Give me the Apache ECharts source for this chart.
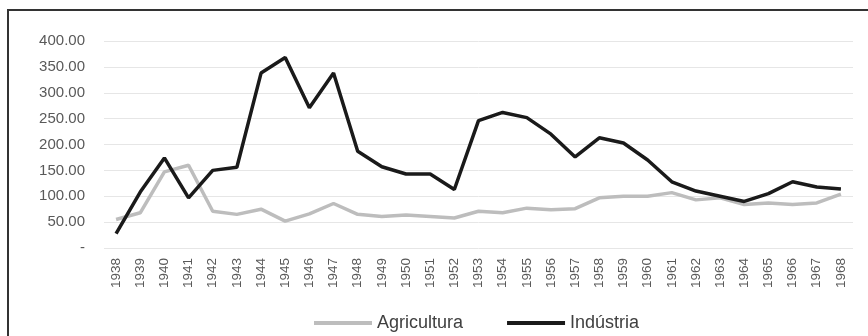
<!DOCTYPE html>
<html>
<head>
<meta charset="utf-8">
<script src="https://cdn.jsdelivr.net/npm/echarts@6/dist/echarts.min.js"></script>
<style>
  body { margin: 0; background: #fff; }
  #frame { position: absolute; left: 7px; top: 9px; width: 900px; height: 400px; border: 2px solid #333; box-sizing: border-box; }
  #main { position: absolute; left: 0; top: 0; width: 868px; height: 336px; }
</style>
</head>
<body>
<div id="frame"></div>
<div id="main"></div>
<script>
// anos
var years = ['1938','1939','1940','1941','1942','1943','1944','1945','1946','1947','1948','1949','1950','1951','1952','1953','1954','1955','1956','1957','1958','1959','1960','1961','1962','1963','1964','1965','1966','1967','1968'];
var agricultura = [55, 68, 147, 160, 71, 65, 75, 52, 66, 86, 65, 61, 64, 61, 58, 71, 68, 77, 74, 76, 97, 100, 100, 107, 93, 97, 84, 87, 84, 87, 104];
var industria = [28, 108, 174, 97, 150, 156, 338, 368, 271, 338, 187, 157, 143, 143, 113, 246, 262, 252, 220, 176, 213, 203, 170, 128, 110, 100, 90, 105, 128, 118, 114];

var myChart = echarts.init(document.getElementById('main'));
myChart.setOption({
    animation: false,
    grid: { left: 104, right: 15, top: 41, bottom: 88 },
    legend: {
        left: 309,
        top: 309,
        icon: 'rect',
        itemWidth: 58,
        itemHeight: 4,
        itemGap: 44,
        textStyle: { fontFamily: 'Liberation Sans', fontSize: 18, color: '#404040' },
        data: ['Agricultura', 'Indústria']
    },
    xAxis: {
        type: 'category',
        data: years,
        axisLine: { show: false },
        axisTick: { show: false },
        axisLabel: { rotate: 90, interval: 0, margin: 10, fontFamily: 'Liberation Sans', fontSize: 13.5, color: '#595959' }
    },
    yAxis: {
        type: 'value',
        min: 0,
        max: 400,
        interval: 50,
        axisLine: { show: false },
        axisTick: { show: false },
        splitLine: { lineStyle: { color: '#e6e6e6', width: 1 } },
        axisLabel: {
            margin: 19,
            fontFamily: 'Liberation Sans',
            fontSize: 15,
            color: '#595959',
            formatter: function (v) { return v === 0 ? '-' : v.toFixed(2); }
        }
    },
    series: [
        {
            name: 'Agricultura',
            type: 'line',
            data: agricultura,
            symbol: 'none',
            color: '#bdbdbd',
            lineStyle: { width: 3.5, color: '#bdbdbd' }
        },
        {
            name: 'Indústria',
            type: 'line',
            data: industria,
            symbol: 'none',
            color: '#1a1a1a',
            lineStyle: { width: 3.5, color: '#1a1a1a' }
        }
    ]
});
</script>
</body>
</html>
